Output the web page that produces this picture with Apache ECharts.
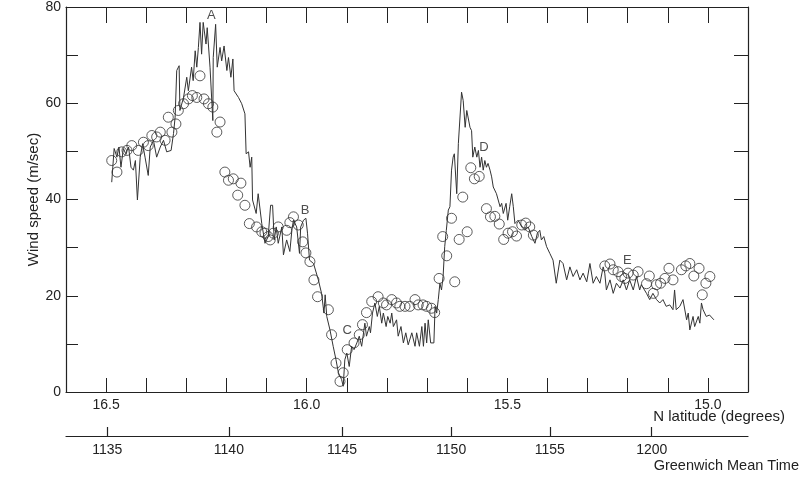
<!DOCTYPE html>
<html>
<head>
<meta charset="utf-8">
<script src="https://cdn.jsdelivr.net/npm/echarts@6/dist/echarts.min.js"></script>
<style>html,body{margin:0;padding:0;background:#fff}#c{width:800px;height:489px}</style>
</head>
<body>
<div id="c"></div>
<script>
// Measured wind speed (jagged line): [N latitude, m/s]
const windLine = [
[16.486,43.6],[16.480,50.6],[16.473,48.8],[16.468,50.9],[16.463,46.7],[16.457,50.6],[16.451,49.5],[16.444,50.9],[16.438,46.7],[16.432,46.1],
[16.427,48.1],[16.422,39.9],[16.415,48.8],[16.409,51.6],[16.403,48.8],[16.395,45.0],[16.390,50.9],[16.382,52.3],[16.374,48.8],[16.365,50.9],
[16.357,52.3],[16.349,49.9],[16.338,50.2],[16.332,53.7],[16.328,57.1],[16.324,66.8],[16.318,67.8],[16.316,58.5],[16.307,61.2],[16.299,65.4],
[16.295,62.6],[16.287,67.5],[16.283,64.7],[16.278,70.9],[16.274,67.5],[16.270,71.6],[16.266,76.8],[16.262,70.2],[16.258,76.8],[16.251,72.3],
[16.248,75.7],[16.241,67.5],[16.234,56.4],[16.233,69.5],[16.227,76.4],[16.223,67.5],[16.216,71.6],[16.212,68.8],[16.206,71.9],[16.199,66.8],
[16.195,69.5],[16.189,65.4],[16.184,69.2],[16.181,62.6],[16.170,61.2],[16.162,59.9],[16.154,57.8],[16.151,49.5],[16.145,49.9],[16.141,46.7],
[16.137,48.8],[16.135,39.9],[16.126,37.1],[16.121,41.2],[16.112,35.0],[16.104,30.9],[16.096,32.3],[16.090,38.8],[16.085,38.8],[16.081,31.6],
[16.076,34.3],[16.071,30.9],[16.062,34.3],[16.058,28.5],[16.050,31.6],[16.042,29.2],[16.037,33.6],[16.033,35.7],[16.025,34.3],[16.018,28.8],
[16.015,34.3],[16.008,35.7],[16.002,36.1],[15.998,33.0],[15.993,27.4],[15.983,26.7],[15.971,23.3],[15.963,20.5],[15.957,16.4],[15.954,20.2],
[15.950,15.7],[15.942,12.9],[15.934,9.5],[15.927,6.7],[15.921,4.0],[15.913,2.6],[15.909,1.2],[15.905,6.7],[15.900,8.1],[15.894,5.3],
[15.888,9.5],[15.882,8.8],[15.875,10.2],[15.869,11.6],[15.863,9.5],[15.855,14.3],[15.851,11.6],[15.844,13.6],[15.841,12.3],[15.836,16.4],
[15.830,18.5],[15.824,15.7],[15.819,17.8],[15.813,14.3],[15.809,16.4],[15.802,13.6],[15.798,15.7],[15.792,14.3],[15.788,16.4],[15.784,13.6],
[15.776,15.0],[15.772,11.6],[15.765,13.6],[15.759,10.2],[15.753,12.3],[15.747,9.8],[15.738,12.3],[15.730,9.5],[15.726,12.3],[15.719,9.5],
[15.713,13.6],[15.709,9.5],[15.705,14.3],[15.701,10.2],[15.697,15.0],[15.691,10.2],[15.683,10.2],[15.680,17.8],[15.676,16.4],[15.672,19.2],
[15.668,22.6],[15.664,21.2],[15.660,24.0],[15.656,30.2],[15.652,33.6],[15.647,37.8],[15.643,38.5],[15.639,46.1],[15.635,48.8],[15.632,49.5],
[15.626,41.2],[15.622,51.6],[15.614,62.3],[15.610,60.6],[15.605,55.0],[15.601,58.5],[15.593,55.0],[15.589,54.3],[15.586,48.8],[15.581,50.9],
[15.576,48.8],[15.572,50.2],[15.568,46.7],[15.564,48.8],[15.560,46.1],[15.556,48.1],[15.552,46.7],[15.548,47.5],[15.543,46.1],[15.539,44.7],
[15.535,42.6],[15.527,41.2],[15.518,38.5],[15.514,39.2],[15.510,37.1],[15.503,39.2],[15.499,35.7],[15.494,38.5],[15.489,41.2],[15.485,38.5],
[15.481,35.0],[15.473,35.7],[15.464,34.3],[15.456,33.6],[15.448,34.3],[15.439,32.3],[15.431,30.9],[15.425,33.0],[15.419,33.6],[15.415,31.6],
[15.409,32.3],[15.402,30.2],[15.394,28.8],[15.386,27.4],[15.378,22.6],[15.369,27.4],[15.361,26.7],[15.352,23.3],[15.344,26.0],[15.336,24.0],
[15.327,25.4],[15.319,23.3],[15.311,24.7],[15.302,22.9],[15.294,26.7],[15.286,22.6],[15.278,24.0],[15.269,22.6],[15.261,26.0],[15.257,24.7],
[15.253,21.2],[15.244,23.3],[15.236,20.5],[15.228,22.6],[15.219,21.6],[15.211,23.3],[15.203,21.2],[15.195,23.3],[15.186,21.2],[15.178,24.0],
[15.170,21.2],[15.166,22.3],[15.153,20.5],[15.145,19.2],[15.137,20.5],[15.128,19.2],[15.120,18.5],[15.112,19.2],[15.104,17.8],[15.095,18.1],
[15.087,17.1],[15.083,21.2],[15.079,17.1],[15.070,17.8],[15.062,19.2],[15.053,15.0],[15.049,16.4],[15.045,12.9],[15.037,15.7],[15.033,13.6],
[15.024,15.7],[15.020,14.3],[15.016,18.5],[15.012,17.1],[15.004,15.7],[14.996,16.0],[14.985,15.0]
];

// Computed wind speed (open circles): [N latitude, m/s]
const windCircles = [
[16.486,48.1],[16.473,45.7],[16.461,49.9],[16.448,50.2],[16.436,51.2],[16.420,50.2],[16.407,51.9],[16.395,51.2],[16.386,53.3],[16.374,53.0],
[16.365,54.0],[16.353,52.3],[16.345,57.1],[16.336,54.0],[16.326,55.7],[16.320,58.5],[16.307,59.9],[16.295,60.9],[16.285,61.6],[16.274,61.2],
[16.266,65.7],[16.256,60.9],[16.245,59.9],[16.234,59.2],[16.216,56.1],[16.224,54.0],[16.204,45.7],[16.195,44.0],[16.183,44.3],[16.164,43.4],
[16.172,40.9],[16.154,38.8],[16.143,35.0],[16.125,34.3],[16.112,33.3],[16.104,33.0],[16.096,32.3],[16.091,31.6],[16.083,33.0],[16.071,34.3],
[16.050,33.6],[16.042,35.2],[16.033,36.4],[16.021,34.7],[16.010,31.2],[16.002,28.9],[15.992,27.1],[15.982,23.3],[15.973,19.8],[15.946,17.1],
[15.938,11.9],[15.927,6.0],[15.917,2.2],[15.909,4.0],[15.899,8.8],[15.882,10.2],[15.869,11.9],[15.861,14.0],[15.851,16.5],[15.838,18.8],
[15.822,19.8],[15.809,18.5],[15.801,18.1],[15.788,19.2],[15.776,18.5],[15.768,17.8],[15.755,17.8],[15.743,17.8],[15.730,19.2],[15.722,18.1],
[15.710,18.1],[15.701,17.8],[15.689,17.4],[15.681,16.5],[15.670,23.6],[15.661,32.3],[15.651,28.3],[15.639,36.1],[15.631,22.9],[15.620,31.7],
[15.600,33.3],[15.611,40.5],[15.591,46.6],[15.582,44.3],[15.570,44.8],[15.552,38.1],[15.542,36.4],[15.531,36.5],[15.520,34.9],[15.509,31.7],
[15.498,33.0],[15.487,33.3],[15.477,32.4],[15.464,34.7],[15.454,35.1],[15.444,34.3],[15.435,32.6],
[15.257,26.2],[15.244,26.6],[15.236,25.4],[15.224,25.0],[15.215,24.0],[15.207,23.6],[15.199,24.7],[15.186,24.3],[15.174,25.0],[15.153,22.5],
[15.146,24.1],[15.136,20.5],[15.128,22.3],[15.118,22.6],[15.107,23.6],[15.097,25.7],[15.087,23.3],[15.066,25.4],[15.055,26.2],[15.045,26.7],
[15.035,24.1],[15.022,25.7],[15.014,20.2],[15.005,22.6],[14.995,24.0]
];

// Point labels A-E: [N latitude, m/s, letter]
const letterMarks = [
[16.238,78.2,'A'],[16.004,37.8,'B'],[15.899,12.8,'C'],[15.558,50.8,'D'],[15.201,27.4,'E']
];

// Greenwich Mean Time ticks, placed at the latitude reached at that time
const gmtLabels = ['1135','1140','1145','1150','1155','1200'];
const gmtLat = [16.497,16.194,15.912,15.640,15.394,15.140];

const FONT = 'Liberation Sans, Arial, Helvetica, sans-serif';
const INK = '#222';
const LATMIN = 14.9, LATMAX = 16.6;

const chart = echarts.init(document.getElementById('c'), null, {renderer:'canvas'});
chart.setOption({
  animation: false,
  backgroundColor: '#fff',
  textStyle: {fontFamily: FONT},
  grid: {left: 66, right: 52, top: 6, bottom: 97},
  xAxis: [
    {
      type: 'value', min: LATMIN, max: LATMAX, interval: 0.1, inverse: true, position: 'bottom',
      axisLine: {show: true, onZero: false, lineStyle: {color: INK, width: 1.2}},
      axisTick: {show: true, inside: true, length: 14, lineStyle: {color: INK, width: 1}},
      axisLabel: {
        show: true, margin: 6, fontSize: 14, color: INK, fontFamily: FONT,
        formatter: v => Math.abs(v * 2 - Math.round(v * 2)) < 1e-6 ? v.toFixed(1) : ''
      },
      splitLine: {show: false}
    },
    {
      type: 'value', min: LATMIN, max: LATMAX, interval: 0.1, inverse: true, position: 'top',
      axisLine: {show: true, onZero: false, lineStyle: {color: INK, width: 1.2}},
      axisTick: {show: true, inside: true, length: 16, lineStyle: {color: INK, width: 1}},
      axisLabel: {show: false},
      splitLine: {show: false}
    },
    {
      type: 'value', min: LATMIN, max: LATMAX, inverse: true, position: 'bottom', offset: 44,
      axisLine: {show: true, onZero: false, lineStyle: {color: INK, width: 1.2}},
      axisTick: {show: true, inside: true, length: 9, customValues: gmtLat, lineStyle: {color: INK, width: 1.2}},
      axisLabel: {
        show: true, margin: 7, fontSize: 14, color: INK, fontFamily: FONT, customValues: gmtLat,
        formatter: v => {
          let best = 0;
          for (let i = 1; i < gmtLat.length; i++) if (Math.abs(gmtLat[i] - v) < Math.abs(gmtLat[best] - v)) best = i;
          return gmtLabels[best];
        }
      },
      splitLine: {show: false}
    }
  ],
  yAxis: [
    {
      type: 'value', min: 0, max: 80, interval: 10, position: 'left',
      name: 'Wind speed (m/sec)', nameLocation: 'middle', nameGap: 25, nameRotate: 90, nameMoveOverlap: false,
      nameTextStyle: {fontSize: 15, color: INK, fontFamily: FONT},
      axisLine: {show: true, onZero: false, lineStyle: {color: INK, width: 1.2}},
      axisTick: {show: true, inside: true, length: 12, lineStyle: {color: INK, width: 1}},
      axisLabel: {show: true, margin: 5, fontSize: 14, color: INK, fontFamily: FONT,
        formatter: v => (v % 20 === 0 ? String(v) : '')},
      splitLine: {show: false}
    },
    {
      type: 'value', min: 0, max: 80, interval: 10, position: 'right',
      axisLine: {show: true, onZero: false, lineStyle: {color: INK, width: 1.2}},
      axisTick: {show: true, inside: true, length: 14, lineStyle: {color: INK, width: 1}},
      axisLabel: {show: false},
      splitLine: {show: false}
    }
  ],
  graphic: [
    {type: 'text', right: 15, top: 409, style: {text: 'N latitude (degrees)', font: '15px ' + FONT, fill: INK}},
    {type: 'text', right: 1, top: 458, style: {text: 'Greenwich Mean Time', font: '14.5px ' + FONT, fill: INK}}
  ],
  series: [
    {
      type: 'line', xAxisIndex: 0, yAxisIndex: 0, data: windLine,
      symbol: 'none', showSymbol: false, silent: true,
      lineStyle: {color: '#333', width: 1}
    },
    {
      type: 'scatter', xAxisIndex: 0, yAxisIndex: 0, data: windCircles,
      symbol: 'circle', symbolSize: 10, silent: true,
      itemStyle: {color: 'rgba(0,0,0,0)', borderColor: '#333', borderWidth: 1}
    },
    {
      type: 'scatter', xAxisIndex: 0, yAxisIndex: 0, data: letterMarks,
      symbolSize: 1, silent: true, itemStyle: {color: 'rgba(0,0,0,0)'},
      label: {show: true, position: 'inside', formatter: p => p.data[2], fontSize: 13, color: INK, fontFamily: FONT}
    }
  ]
});
</script>
</body>
</html>
